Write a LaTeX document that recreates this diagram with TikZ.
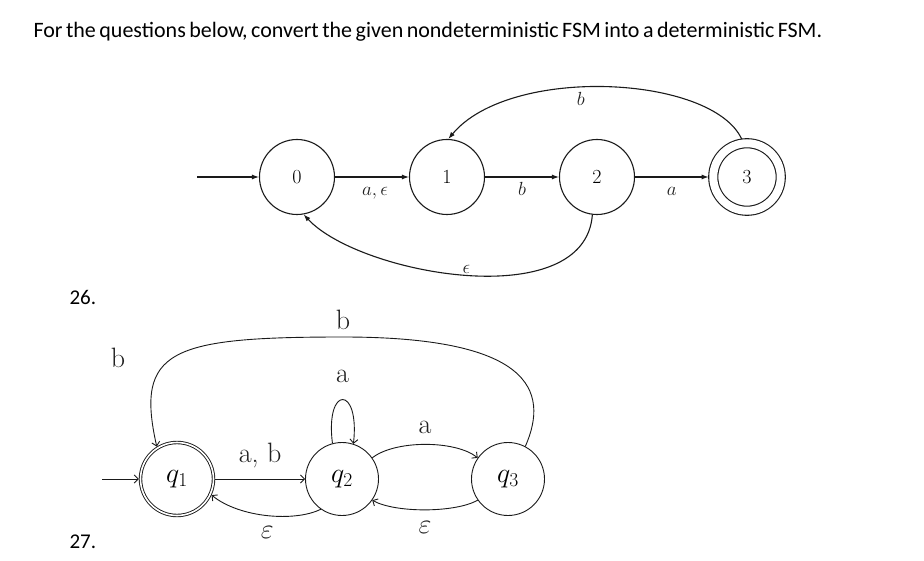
\RequirePackage{fix-cm}
\documentclass[tikz,border=0pt]{standalone}
\usepackage{fontspec}
\newfontfamily\calibri{Carlito}
\newfontfamily\calibrihead[WordSpace=0.7]{Carlito}
\usetikzlibrary{arrows.meta}
\definecolor{fsmink}{HTML}{1A1A1A}
\definecolor{fsmtext}{HTML}{202020}

\begin{document}
\begin{tikzpicture}[x=1pt,y=-1pt,
  topstate/.style={circle,draw=fsmink,line width=1.1pt,minimum size=75pt,inner sep=0pt,font=\fontsize{20}{22}\selectfont},
  topfinal/.style={topstate,double,double distance=8pt,minimum size=67.5pt,outer sep=4.6pt},
  toparrow/.style={draw=fsmink,line width=1.1pt,-{Latex[length=7pt,width=5pt]}},
  toplabel/.style={font=\fontsize{19}{21}\selectfont,text=fsmtext},
  botstate/.style={circle,draw=fsmink,line width=0.9pt,minimum size=73pt,inner sep=0pt,font=\fontsize{28}{30}\selectfont},
  botfinal/.style={botstate,double,double distance=1.6pt,outer sep=1.7pt},
  botarrow/.style={draw=fsmink,line width=0.9pt,-{Straight Barb[length=4pt,width=8pt]}},
  botlabel/.style={font=\fontsize{28}{30}\selectfont,text=fsmtext},
  qnum/.style={font=\calibri\fontsize{21}{24}\selectfont,anchor=base west}]
  \fill[white] (0,0) rectangle (924,561);
  \useasboundingbox (0,0) rectangle (924,561);

  \node[anchor=base west,font=\calibrihead\fontsize{22}{26}\selectfont] (title) at (30,38)
    {For the questions below, convert the given nondeterministic FSM into a deterministic FSM.};
  \node[qnum] (n26) at (66,305) {26.};
  \node[qnum] (n27) at (66,548) {27.};

  % question 26
  \coordinate (topstart) at (197,177);
  \node[topstate] (s0) at (297,177) {0};
  \node[topstate] (s1) at (447,177) {1};
  \node[topstate] (s2) at (597,177) {2};
  \node[topfinal] (s3) at (747,177) {3};
  \draw[toparrow] (topstart) -- (s0);
  \draw[toparrow] (s0) -- node[toplabel,anchor=base,yshift=-19pt,xshift=3pt] {$a,\epsilon$} (s1);
  \draw[toparrow] (s1) -- node[toplabel,anchor=base,yshift=-19pt] {$b$} (s2);
  \draw[toparrow] (s2) -- node[toplabel,anchor=base,yshift=-19pt] {$a$} (s3);
  \draw[toparrow] (s3.98) .. controls (712,75) and (510,65) .. node[toplabel,pos=0.57,below=1pt] {$b$} (s1.88);
  \draw[toparrow] (s2.-97) .. controls (585,315) and (360,275) .. node[toplabel,pos=0.5,above,inner sep=1pt] {$\epsilon$} (s0.-80);

  % question 27
  \coordinate (botstart) at (102,479);
  \node[botfinal] (q1) at (177,479) {$q_1$};
  \node[botstate] (q2) at (342,479) {$q_2$};
  \node[botstate] (q3) at (508,479) {$q_3$};
  \draw[botarrow] (botstart) -- (q1);
  \draw[botarrow] (q1) -- node[botlabel,above=7pt] {a, b} (q2);
  \draw[botarrow] (q2.235) .. controls (295,522) and (240,518) .. node[botlabel,below=7pt] {$\varepsilon$} (q1.-25);
  \draw[botarrow] (q2.35) .. controls (395,440) and (455,440) .. node[botlabel,above=7pt] {a} (q3.145);
  \draw[botarrow] (q3.215) .. controls (455,513) and (395,513) .. node[botlabel,below=8pt] {$\varepsilon$} (q2.-35);
  \draw[botarrow] (q2.105) .. controls (325,385) and (360,385) .. node[botlabel,above=13pt] {a} (q2.72);
  \draw[botarrow] (q3.62) .. controls (550,390) and (530,337) .. (343,337) node[botlabel,above=3pt] {b}
    .. controls (170,337) and (135,350) .. (q1.122);
  \node[botlabel] (bleft) at (118,358) {b};
\end{tikzpicture}
\end{document}
